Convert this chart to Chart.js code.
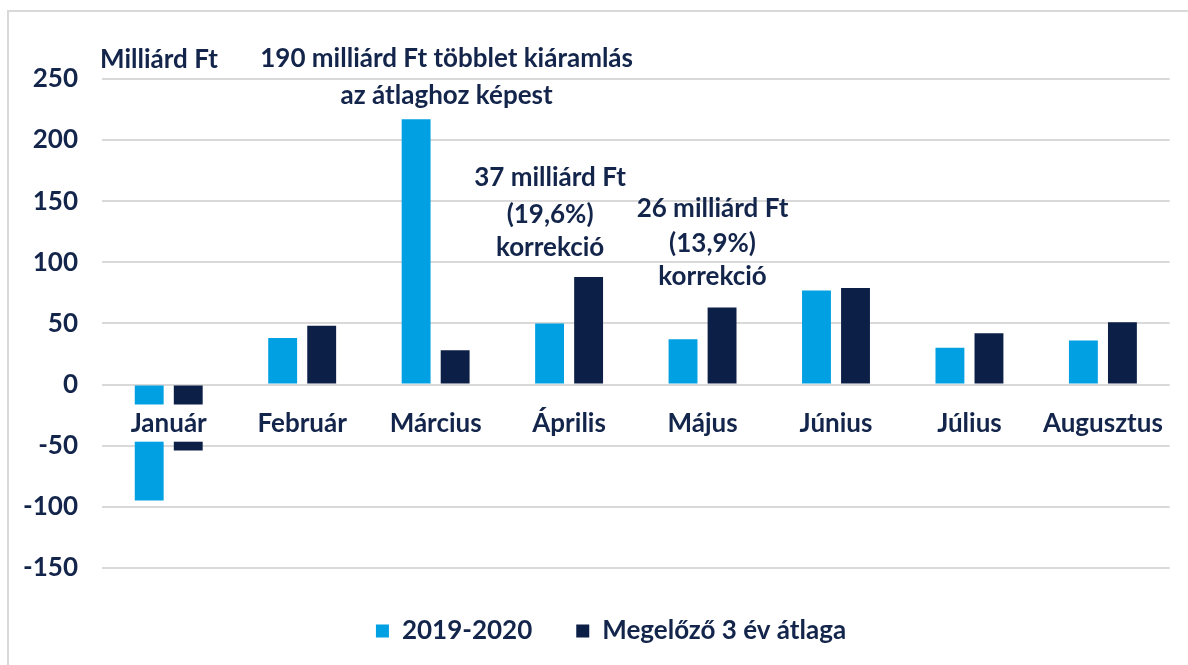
<!DOCTYPE html>
<html>
<head>
<meta charset="utf-8">
<script src="https://cdn.jsdelivr.net/npm/chart.js@4/dist/chart.umd.min.js"></script>
<style>
  html, body { margin: 0; padding: 0; background: #fff; }
  #wrap { position: relative; width: 1188px; height: 665px; }
</style>
</head>
<body>
<div id="wrap"><canvas id="c" width="1188" height="665"></canvas></div>
<script>
const categories = ['Január', 'Február', 'Március', 'Április', 'Május', 'Június', 'Július', 'Augusztus'];
const series2019_2020 = [-95, 38, 217, 50, 37, 77, 30, 36];
const seriesAvg3y = [-54, 48, 28, 88, 63, 79, 42, 51];
const seriesNames = ['2019-2020', 'Megelőző 3 év átlaga'];
const yTicks = [-150, -100, -50, 0, 50, 100, 150, 200, 250];

const unitLabel = 'Milliárd Ft';
const noteMarch = ['190 milliárd Ft többlet kiáramlás', 'az átlaghoz képest'];
const noteApril = ['37 milliárd Ft', '(19,6%)', 'korrekció'];
const noteMay = ['26 milliárd Ft', '(13,9%)', 'korrekció'];

const NAVY = '#14254b';
const FONT = 'Lato';

// text placement (category anchor + pixel offset, y in axis units)
const notes = [
  { cat: 'Március', dx: 11, lines: noteMarch, yv: [267, 236] },
  { cat: 'Április', dx: -19, lines: noteApril, yv: [169, 139, 112] },
  { cat: 'Május', dx: 10, lines: noteMay, yv: [144, 115, 88] }
];

const notePlugin = {
  id: 'notes',
  afterLayout(chart) {
    // legend is centred slightly right of the canvas centre in the original
    if (chart.legend) chart.legend.left = 52;
  },
  beforeDraw(chart) {
    const ctx = chart.ctx;
    ctx.save();
    ctx.fillStyle = '#fff';
    ctx.fillRect(0, 0, chart.width, chart.height);
    ctx.fillStyle = '#d9d9d9';
    ctx.fillRect(7, 10, chart.width - 7, 2);
    ctx.fillRect(7, 10, 2, chart.height - 10);
    ctx.restore();
  },
  afterDraw(chart) {
    const ctx = chart.ctx;
    const xs = chart.scales.x, ys = chart.scales.y;
    ctx.save();
    ctx.fillStyle = NAVY;
    ctx.font = 'bold 26px ' + FONT;
    ctx.textBaseline = 'middle';
    ctx.textAlign = 'left';
    ctx.fillText(unitLabel, chart.chartArea.left - 2, ys.getPixelForValue(266));
    ctx.textAlign = 'center';
    notes.forEach(n => {
      const x = xs.getPixelForValue(categories.indexOf(n.cat)) + n.dx;
      n.lines.forEach((t, i) => ctx.fillText(t, x, ys.getPixelForValue(n.yv[i])));
    });
    ctx.restore();
  }
};

new Chart(document.getElementById('c'), {
  type: 'bar',
  data: {
    labels: categories,
    datasets: [
      { label: seriesNames[0], data: series2019_2020, backgroundColor: '#00a0e3', categoryPercentage: 0.585, barPercentage: 0.74 },
      { label: seriesNames[1], data: seriesAvg3y, backgroundColor: '#0c1f47', categoryPercentage: 0.585, barPercentage: 0.74 }
    ]
  },
  options: {
    responsive: false,
    animation: false,
    layout: { padding: { left: 0, right: 18, top: 79, bottom: 11 } },
    plugins: {
      legend: {
        position: 'bottom',
        title: { display: true, text: ' ', font: { size: 1 }, padding: { top: 5, bottom: 0 } },
        labels: {
          color: NAVY,
          font: { family: FONT, size: 26, weight: 'bold' },
          boxWidth: 13, boxHeight: 13, padding: 44,
          useBorderRadius: false
        }
      },
      tooltip: { enabled: false }
    },
    scales: {
      x: {
        position: { y: 0 },
        grid: { display: false, drawTicks: false },
        border: { display: false },
        ticks: {
          z: 1,
          color: NAVY,
          font: { family: FONT, size: 26, weight: 'bold' },
          padding: 24,
          showLabelBackdrop: true,
          backdropColor: '#ffffff',
          backdropPadding: { top: 4, bottom: 2, left: 4, right: 4 },
          maxRotation: 0
        }
      },
      y: {
        min: -150, max: 250,
        afterFit(scale) { scale.width = 102; },
        afterBuildTicks(scale) { scale.ticks = yTicks.map(v => ({ value: v })); },
        grid: { color: '#d9d9d9', lineWidth: 2, drawTicks: false },
        border: { display: false },
        ticks: {
          color: NAVY,
          font: { family: FONT, size: 26, weight: 'bold' },
          padding: 24
        }
      }
    }
  },
  plugins: [notePlugin]
});
</script>
</body>
</html>
